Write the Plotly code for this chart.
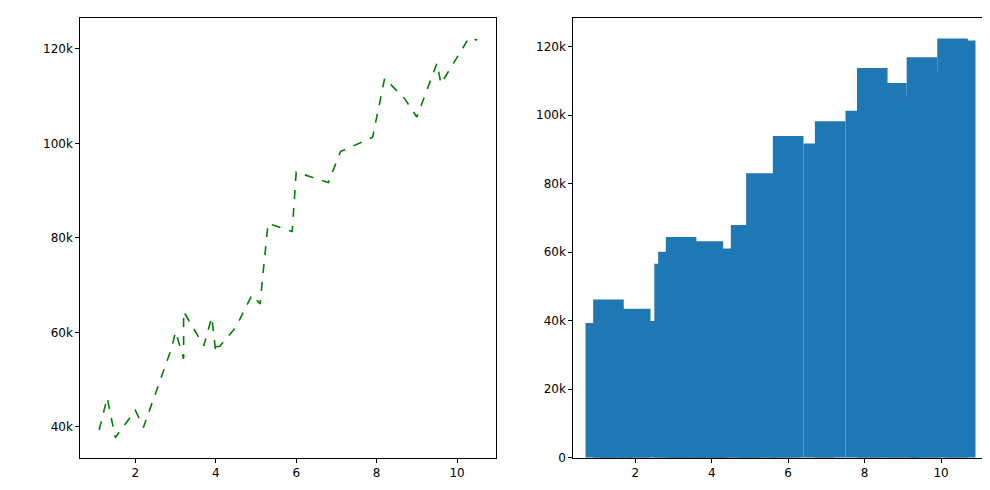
import plotly.graph_objects as go

years = [1.1,1.3,1.5,2.0,2.2,2.9,3.0,3.2,3.2,3.7,3.9,4.0,4.0,4.1,4.5,4.9,5.1,5.3,5.9,6.0,6.8,7.1,7.9,8.2,8.7,9.0,9.5,9.6,10.3,10.5]
salary = [39343,46205,37731,43525,39891,56642,60150,54445,64445,57189,63218,55794,56957,57081,61111,67938,66029,83088,81363,93940,91738,98273,101302,113812,109431,105582,116969,112635,122391,121872]

fig = go.Figure()
fig.add_trace(go.Scatter(x=years, y=salary, mode="lines", line=dict(color="green", dash="dash", width=1.6), xaxis="x", yaxis="y"))
fig.add_trace(go.Bar(x=years, y=salary, width=0.8, marker=dict(color="#1f77b4", line=dict(width=0)), xaxis="x2", yaxis="y2"))

ax = dict(showgrid=False, zeroline=False, showline=True, mirror=True, linecolor="black", linewidth=1,
          ticks="outside", ticklen=4, tickcolor="black", tickfont=dict(family="DejaVu Sans", size=12, color="black"))
fig.update_layout(
    width=990, height=490, margin=dict(l=0, r=0, t=0, b=0), showlegend=False,
    plot_bgcolor="white", paper_bgcolor="white", barmode="overlay",
    xaxis=dict(domain=[0.073, 0.493], range=[0.63, 10.97], tickvals=[2,4,6,8,10], anchor="y", **ax),
    yaxis=dict(domain=[0.069, 0.98], range=[33498, 126624], tickvals=[40000,60000,80000,100000,120000], anchor="x", **ax),
    xaxis2=dict(domain=[0.571, 0.99], range=[0.38, 11.23], tickvals=[2,4,6,8,10], anchor="y2", **ax),
    yaxis2=dict(domain=[0.069, 0.98], range=[0, 128510], tickvals=[0,20000,40000,60000,80000,100000,120000], anchor="x2", **ax),
)
fig.write_html("out.html")
